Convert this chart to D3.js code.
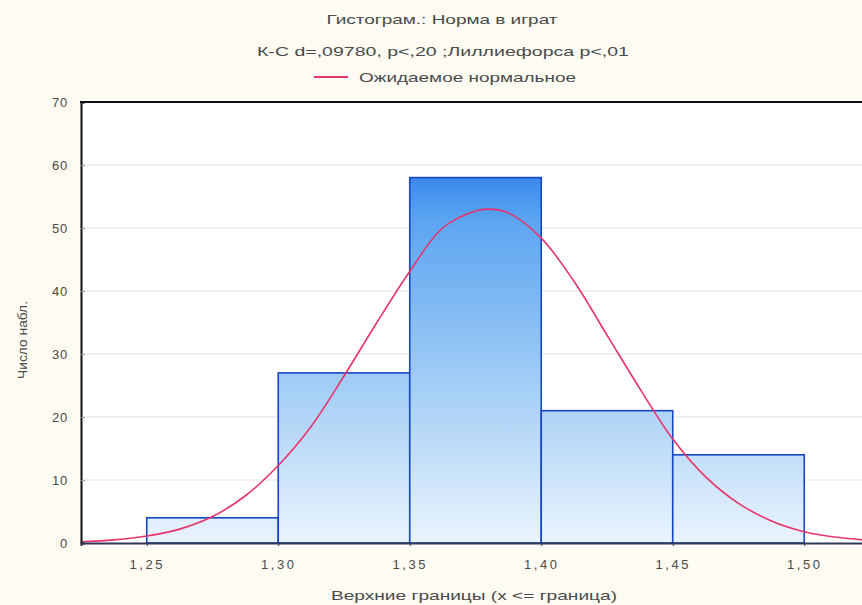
<!DOCTYPE html>
<html>
<head>
<meta charset="utf-8">
<script src="https://cdn.jsdelivr.net/npm/d3@7"></script>
<style>
  html, body { margin: 0; padding: 0; background: #fdfbf2; }
  svg { display: block; font-family: 'Liberation Sans', Arial, sans-serif; }
</style>
</head>
<body>
<div id="chart"></div>
<script>
// histogram bins (upper bounds) and counts
const binEdges = [1.25, 1.30, 1.35, 1.40, 1.45, 1.50]
const counts = [4, 27, 58, 21, 14]
const xTicks = [1.25, 1.30, 1.35, 1.40, 1.45, 1.50]
const yTicks = [0, 10, 20, 30, 40, 50, 60, 70]

// expected normal curve
const curveX = [1.225, 1.2375, 1.25, 1.2625, 1.275, 1.2875, 1.30, 1.3125, 1.325, 1.3375, 1.35, 1.3625,
  1.375, 1.38, 1.3875, 1.40, 1.4125, 1.425, 1.4375, 1.45, 1.4625, 1.475, 1.4875, 1.50, 1.5125, 1.525]
const curveY = [0.2, 0.5, 1.1, 2.2, 4.2, 7.5, 12.3, 18.5, 26.5, 35, 43.1, 50, 52.7, 53, 52.4, 48.4,
  41.5, 33, 24.5, 16.5, 10.5, 6.3, 3.5, 1.8, 0.9, 0.4]

const titleLines = ['Гистограм.: Норма в играт', 'К-С d=,09780, p<,20 ;Лиллиефорса p<,01']
const legendLabel = 'Ожидаемое нормальное'
const xLabel = 'Верхние границы (x <= граница)'
const yLabel = 'Число набл.'

const width = 862
const height = 605
const margin = { top: 102, left: 81, bottom: 62 }
const textColor = '#4a4a4a'

const x = d3.scaleLinear().domain([1.225, 1.525]).range([margin.left, 870])
const y = d3.scaleLinear().domain([0, 70]).range([height - margin.bottom, margin.top])

const svg = d3.select('#chart')
  .append('svg')
  .attr('width', width)
  .attr('height', height)

const defs = svg.append('defs')
const grad = defs.append('linearGradient')
  .attr('id', 'barGrad')
  .attr('gradientUnits', 'userSpaceOnUse')
  .attr('x1', 0).attr('x2', 0)
  .attr('y1', y(58)).attr('y2', y(0))
grad.append('stop').attr('offset', '0%').attr('stop-color', '#3a8aee')
grad.append('stop').attr('offset', '12%').attr('stop-color', '#5ca5f1')
grad.append('stop').attr('offset', '55%').attr('stop-color', '#a0ccf5')
grad.append('stop').attr('offset', '100%').attr('stop-color', '#eaf4fd')

defs.append('clipPath').attr('id', 'plotClip')
  .append('rect')
  .attr('x', margin.left).attr('y', margin.top)
  .attr('width', 870 - margin.left).attr('height', y(0) - margin.top)

// plot area
svg.append('rect')
  .attr('x', margin.left).attr('y', margin.top)
  .attr('width', width - margin.left).attr('height', y(0) - margin.top)
  .attr('fill', '#ffffff')

// grid
svg.append('g')
  .selectAll('line')
  .data(yTicks.filter(d => d > 0 && d < 70))
  .join('line')
  .attr('x1', margin.left).attr('x2', width)
  .attr('y1', d => y(d)).attr('y2', d => y(d))
  .attr('stroke', '#e2e2e2')
  .attr('stroke-width', 1.2)

// bars
const bins = counts.map((c, i) => ({ x0: binEdges[i], x1: binEdges[i + 1], count: c }))
svg.append('g')
  .selectAll('rect')
  .data(bins)
  .join('rect')
  .attr('x', d => x(d.x0))
  .attr('y', d => y(d.count))
  .attr('width', d => x(d.x1) - x(d.x0))
  .attr('height', d => y(0) - y(d.count))
  .attr('fill', 'url(#barGrad)')
  .attr('stroke', '#1646c2')
  .attr('stroke-width', 1.6)

// expected normal curve
const line = d3.line()
  .x((d, i) => x(curveX[i]))
  .y(d => y(d))
  .curve(d3.curveCatmullRom)
svg.append('path')
  .datum(curveY)
  .attr('clip-path', 'url(#plotClip)')
  .attr('d', line)
  .attr('fill', 'none')
  .attr('stroke', '#e8336c')
  .attr('stroke-width', 1.6)

// axes
const yAxis = d3.axisLeft(y).tickValues(yTicks).tickSize(-4).tickPadding(13)
const gy = svg.append('g')
  .attr('transform', `translate(${margin.left},0)`)
  .call(yAxis)
gy.select('.domain').attr('stroke', '#111').attr('stroke-width', 2)
gy.selectAll('.tick line').attr('stroke', '#999')
gy.selectAll('text')
  .attr('font-size', 13)
  .attr('letter-spacing', 0.8)
  .attr('fill', textColor)

const xAxis = d3.axisBottom(x)
  .tickValues(xTicks)
  .tickFormat(d => d3.format('.2f')(d).replace('.', ','))
  .tickSize(3)
  .tickPadding(14)
const gx = svg.append('g')
  .attr('transform', `translate(0,${y(0)})`)
  .call(xAxis)
gx.select('.domain').attr('stroke', '#2e3a55').attr('stroke-width', 2)
gx.selectAll('.tick line').attr('stroke', '#2e3a55')
gx.selectAll('text')
  .attr('font-size', 13)
  .attr('letter-spacing', 2.5)
  .attr('fill', textColor)

// top frame line
svg.append('line')
  .attr('x1', margin.left - 1).attr('x2', width)
  .attr('y1', margin.top).attr('y2', margin.top)
  .attr('stroke', '#111').attr('stroke-width', 2)

// titles
const titleWidths = [231, 372]
svg.selectAll('.title')
  .data(titleLines)
  .join('text')
  .attr('class', 'title')
  .attr('x', (d, i) => i === 0 ? 442 : 443)
  .attr('y', (d, i) => 24 + i * 32)
  .attr('text-anchor', 'middle')
  .attr('font-size', 13)
  .attr('fill', textColor)
  .attr('textLength', (d, i) => titleWidths[i])
  .attr('lengthAdjust', 'spacingAndGlyphs')
  .text(d => d)

// legend
svg.append('line')
  .attr('x1', 314).attr('x2', 348)
  .attr('y1', 77).attr('y2', 77)
  .attr('stroke', '#e8336c').attr('stroke-width', 2)
svg.append('text')
  .attr('x', 359).attr('y', 82)
  .attr('font-size', 13)
  .attr('fill', textColor)
  .attr('textLength', 217)
  .attr('lengthAdjust', 'spacingAndGlyphs')
  .text(legendLabel)

// axis labels
svg.append('text')
  .attr('x', 331).attr('y', 600)
  .attr('font-size', 13)
  .attr('fill', textColor)
  .attr('textLength', 286)
  .attr('lengthAdjust', 'spacingAndGlyphs')
  .text(xLabel)

svg.append('text')
  .attr('transform', 'translate(27,340) rotate(-90)')
  .attr('text-anchor', 'middle')
  .attr('font-size', 13)
  .attr('fill', textColor)
  .attr('textLength', 78)
  .attr('lengthAdjust', 'spacingAndGlyphs')
  .text(yLabel)
</script>
</body>
</html>
